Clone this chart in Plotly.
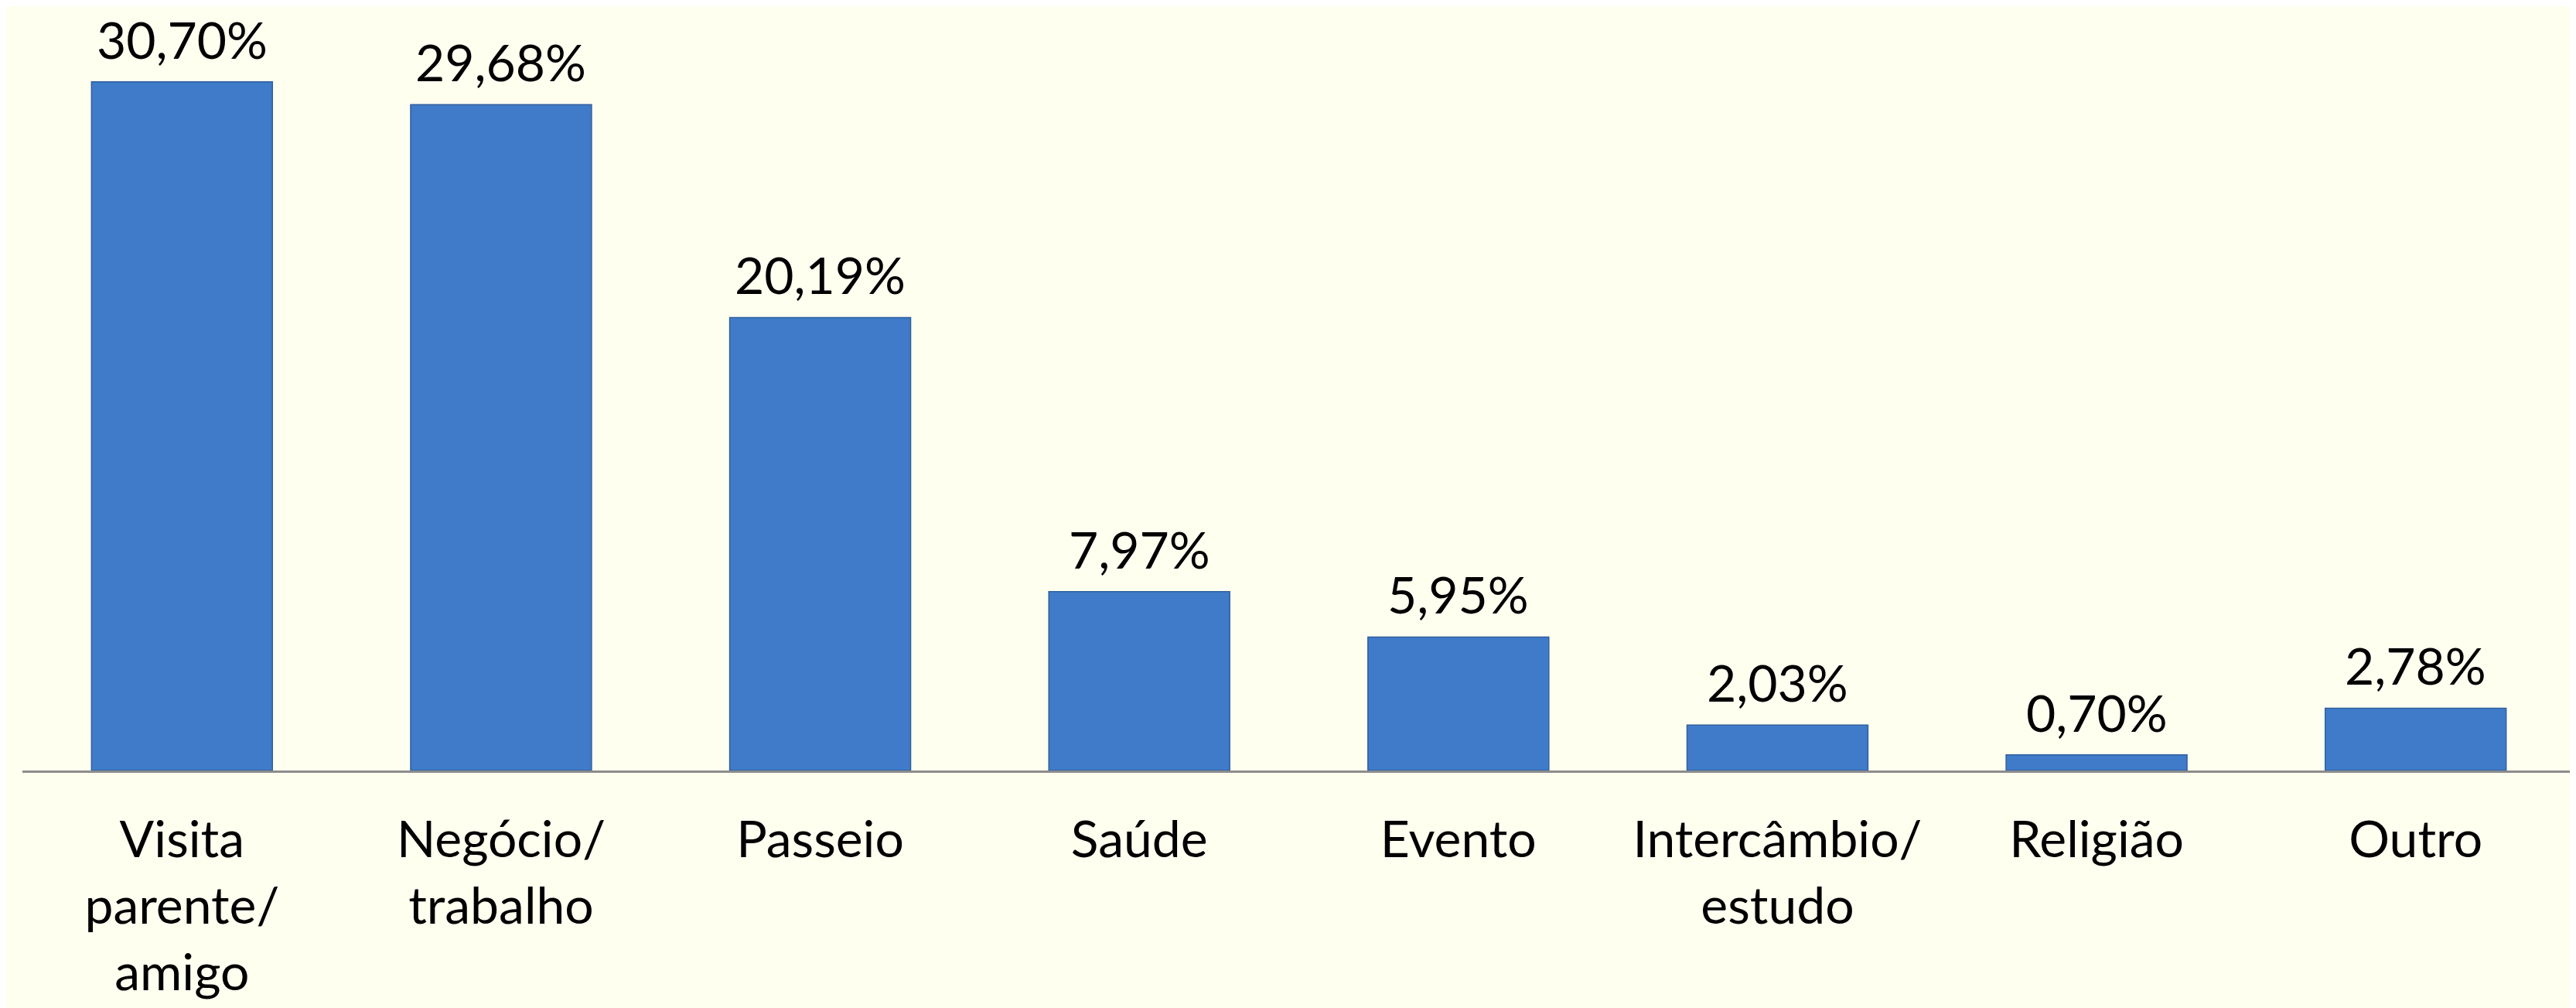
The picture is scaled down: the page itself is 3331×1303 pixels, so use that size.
import plotly.graph_objects as go

categories = ["Visita<br>parente/<br>amigo", "Negócio/<br>trabalho", "Passeio", "Saúde",
              "Evento", "Intercâmbio/<br>estudo", "Religião", "Outro"]
values = [30.70, 29.68, 20.19, 7.97, 5.95, 2.03, 0.70, 2.78]

BG = "#FFFFF0"
FONT = "Lato"

fig = go.Figure()
fig.add_trace(go.Bar(
    x=categories, y=values,
    marker=dict(color="#3F7BC8", line=dict(color="#325F9E", width=1.5)),
    hoverinfo="skip",
))

for c, v in zip(categories, values):
    fig.add_annotation(
        x=c, y=v, text=f"{v:.2f}".replace(".", ",") + "%",
        showarrow=False, yanchor="bottom", yshift=14,
        font=dict(family=FONT, size=66, color="#000000"),
    )

fig.update_layout(
    width=3331, height=1303,
    margin=dict(l=21, r=9, t=2, b=315),
    paper_bgcolor=BG, plot_bgcolor=BG,
    bargap=0.433,
    showlegend=False,
    font=dict(family=FONT, size=66, color="#000000"),
)
fig.update_xaxes(
    showline=True, linecolor="#8C8C8C", linewidth=2.5,
    ticks="", ticklabelstandoff=30,
    tickfont=dict(family=FONT, size=66, color="#000000"),
    showgrid=False, zeroline=False,
)
fig.update_yaxes(
    range=[0, 34], visible=False, showgrid=False, zeroline=False,
)

fig.write_html("out.html")
